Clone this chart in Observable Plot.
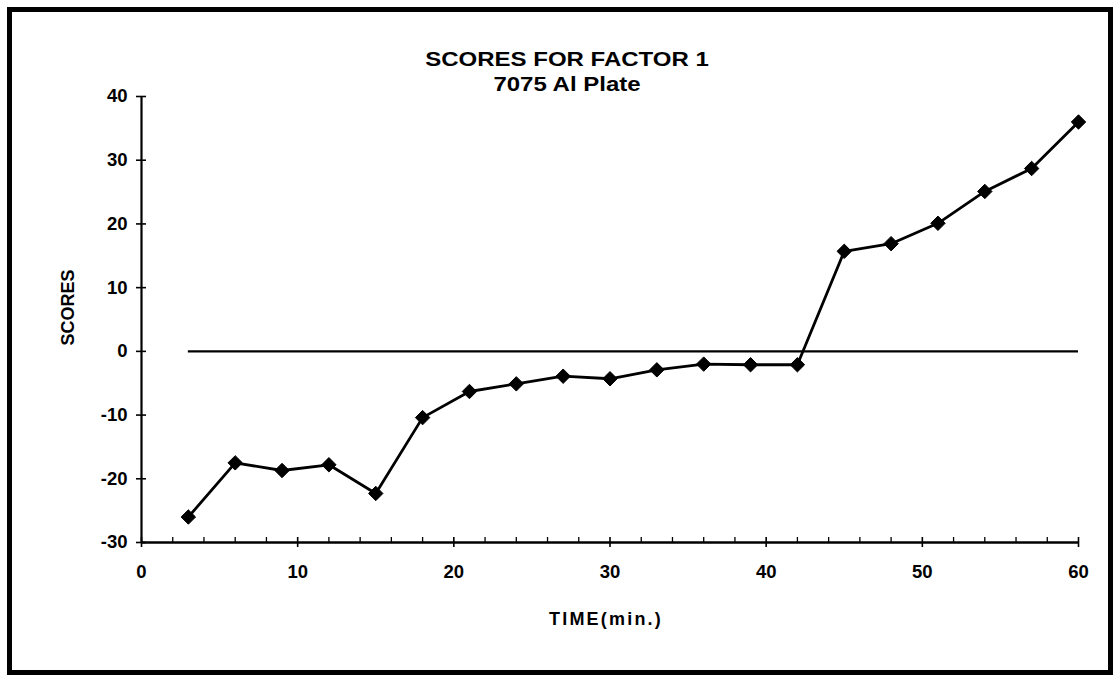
<!DOCTYPE html>
<html>
<head>
<meta charset="utf-8">
<script src="https://cdn.jsdelivr.net/npm/d3@7"></script>
<script src="https://cdn.jsdelivr.net/npm/@observablehq/plot@0.6"></script>
<style>
  html, body { margin: 0; padding: 0; background: white; }
  #wrap { position: relative; width: 1115px; height: 679px; overflow: hidden; background: white; }
  #frame { position: absolute; left: 7px; top: 7px; width: 1106px; height: 668px; border: 5px solid black; box-sizing: border-box; }
  #title { position: absolute; left: 0; top: 46.5px; width: 1134px; text-align: center;
           font: bold 20px/25px "Liberation Sans", Arial, sans-serif; color: black;
           transform: scaleX(1.2); }
  #chart { position: absolute; left: 0; top: 0; }
</style>
</head>
<body>
<div id="wrap">
  <div id="frame"></div>
  <div id="chart"></div>
  <div id="title"></div>
</div>
<script>
// ---- data ----
const times = [3, 6, 9, 12, 15, 18, 21, 24, 27, 30, 33, 36, 39, 42, 45, 48, 51, 54, 57, 60];
const scores = [-26.0, -17.5, -18.7, -17.8, -22.3, -10.4, -6.3, -5.1, -3.9, -4.3,
                -2.9, -2.0, -2.1, -2.1, 15.7, 16.9, 20.1, 25.1, 28.7, 36.0];
const baselineValue = 0;
const yTicks = [-30, -20, -10, 0, 10, 20, 30, 40];
const xTicks = [0, 10, 20, 30, 40, 50, 60];
const xMinorTicks = [2, 4, 6, 8, 12, 14, 16, 18, 22, 24, 26, 28, 32, 34, 36, 38, 42, 44, 46, 48, 52, 54, 56, 58];
const titleLines = ["SCORES FOR FACTOR 1", "7075 Al Plate"];
const yLabel = "SCORES";
const xLabel = "TIME(min.)";

const data = times.map((t, i) => ({time: t, score: scores[i]}));

const chart = Plot.plot({
  width: 1115,
  height: 679,
  marginLeft: 141,
  marginRight: 37,
  marginTop: 96,
  marginBottom: 137,
  style: {background: "transparent", fontFamily: "'Liberation Sans', Arial, sans-serif", fontWeight: "bold", color: "black", overflow: "visible"},
  x: {domain: [xTicks[0], xTicks[xTicks.length - 1]]},
  y: {domain: [yTicks[0], yTicks[yTicks.length - 1]]},
  marks: [
    Plot.axisY({ticks: yTicks, tickFormat: d => String(d), tickSize: 10, dx: 5, tickPadding: 9, fontSize: 18.5, label: null, strokeWidth: 1.6}),
    Plot.axisX({ticks: xTicks, tickFormat: d => String(d), tickSize: 10, dy: -5, tickPadding: 17, fontSize: 18.5, label: null, strokeWidth: 1.6}),
    Plot.axisX({ticks: xMinorTicks, tickSize: 5, dy: -5, tickFormat: () => "", label: null, strokeWidth: 1.3}),
    Plot.ruleX([xTicks[0]], {strokeWidth: 2.2}),
    Plot.ruleY([yTicks[0]], {strokeWidth: 2.5}),
    Plot.ruleY([baselineValue], {x1: times[0], x2: times[times.length - 1], strokeWidth: 2.2}),
    Plot.line(data, {x: "time", y: "score", stroke: "black", strokeWidth: 2.8}),
    Plot.dot(data, {x: "time", y: "score", symbol: "diamond2", r: 6.5, fill: "black", stroke: "black", strokeWidth: 1}),
    Plot.text([yLabel], {frameAnchor: "left", textAnchor: "middle", rotate: -90, dx: -73, dy: -12, fontSize: 18, fontWeight: "bold"}),
    Plot.text([xLabel], {frameAnchor: "bottom", textAnchor: "middle", dx: -4, dy: 82, fontSize: 18, fontWeight: "bold", className: "xlabel"})
  ]
});
document.getElementById("chart").appendChild(chart);
d3.select(chart).selectAll(".xlabel text").attr("letter-spacing", "2.2px");
document.getElementById("title").innerHTML = titleLines.join("<br>");
</script>
</body>
</html>
